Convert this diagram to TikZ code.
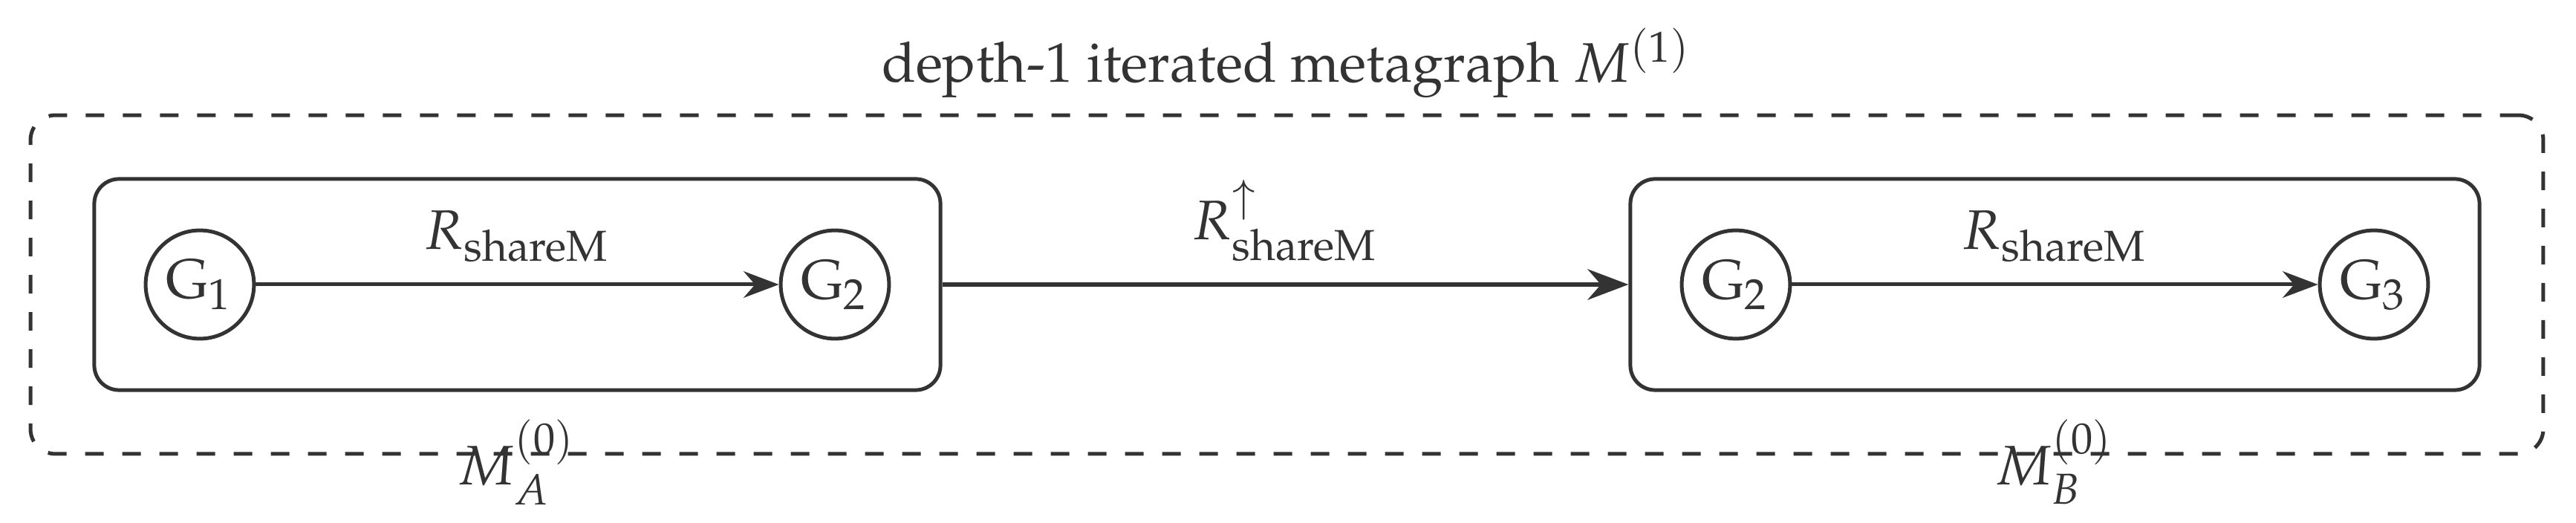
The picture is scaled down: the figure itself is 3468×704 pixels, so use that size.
\documentclass[tikz,border=0pt]{standalone}
\usepackage[T1]{fontenc}
\usepackage{mathpazo}
\usetikzlibrary{arrows.meta,fit,positioning}
\definecolor{ink}{HTML}{333333}
\begin{document}
\begin{tikzpicture}[x=0.12pt,y=-0.12pt,
  font=\fontsize{9}{11}\selectfont,
  gnode/.style={circle, draw=ink, semithick, text=ink, minimum size=17.5pt, inner sep=1pt},
  mbox/.style={draw=ink, semithick, rounded corners=4pt, inner sep=8pt},
  outerbox/.style={draw=ink, semithick, dashed, rounded corners=4pt, inner sep=10pt},
  rel/.style={-{Stealth}, draw=ink, semithick},
  lift/.style={-{Stealth}, draw=ink, thick},
  txt/.style={text=ink}]
\useasboundingbox (0,0) rectangle (3468,704);
\node[gnode] (g1) at (269,383) {$\mathrm{G}_1$};
\node[gnode] (g2a) at (1124,383) {$\mathrm{G}_2$};
\node[gnode] (g2b) at (2337,383) {$\mathrm{G}_2$};
\node[gnode] (g3) at (3196,383) {$\mathrm{G}_3$};
\node[mbox, fit=(g1)(g2a)] (boxA) {};
\node[mbox, fit=(g2b)(g3)] (boxB) {};
\node[outerbox, fit=(boxA)(boxB)] (outer) {};
\node[txt, above=-1pt of outer] (title) {depth-1 iterated metagraph $M^{(1)}$};
\node[txt, below=1pt of boxA] (labA) {$M_A^{(0)}$};
\node[txt, below=1pt of boxB] (labB) {$M_B^{(0)}$};
\draw[rel] (g1) -- node[txt, midway, above] (r1) {$R_{\mathrm{shareM}}$} (g2a);
\draw[rel] (g2b) -- node[txt, midway, above] (r2) {$R_{\mathrm{shareM}}$} (g3);
\draw[lift] (boxA) -- node[txt, midway, above] (r3) {$R^{\uparrow}_{\mathrm{shareM}}$} (boxB);
\end{tikzpicture}
\end{document}
